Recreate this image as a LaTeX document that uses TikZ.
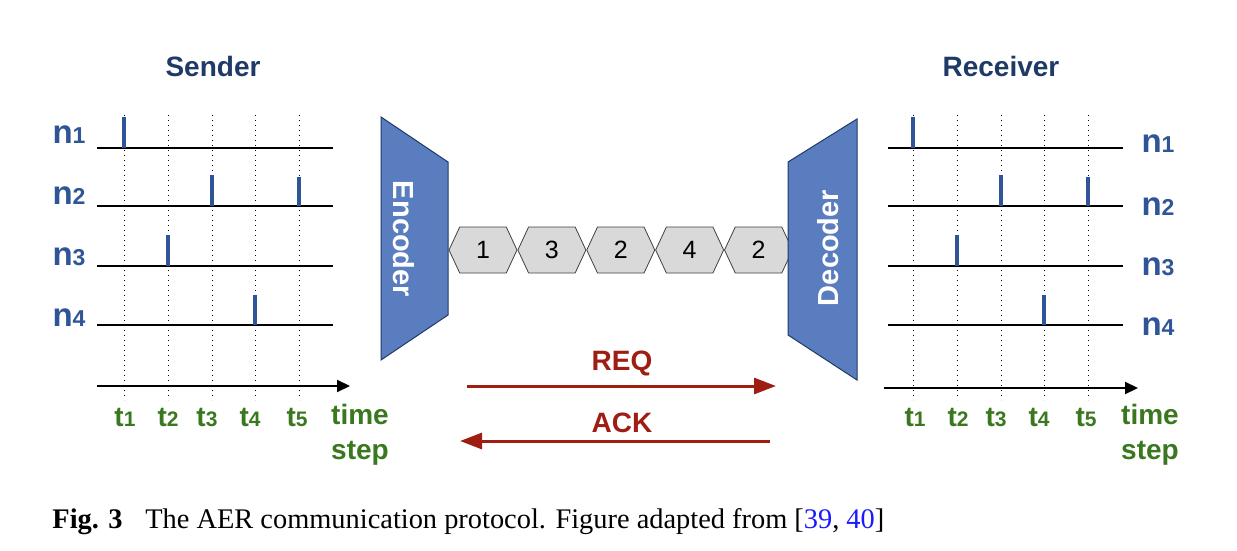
\documentclass[tikz,border=0pt]{standalone}
\usepackage{fontspec}
\setmainfont{Liberation Serif}
\setsansfont{Liberation Sans}
\usepackage{xcolor}
\usetikzlibrary{positioning,shapes.symbols,arrows.meta}

\definecolor{encblue}{HTML}{5A7DC0}
\definecolor{spikeblue}{HTML}{2F5597}
\definecolor{titlenavy}{HTML}{1F3A66}
\definecolor{tgreen}{HTML}{3A7820}
\definecolor{sigred}{HTML}{9E1E14}
\definecolor{hexgray}{HTML}{D9D9D9}
\definecolor{citeblue}{HTML}{1A1AFF}

\newcommand{\nlab}[1]{n{\fontsize{11.5}{12}\selectfont #1}}
\newcommand{\tlab}[1]{t{\fontsize{10.5}{12}\selectfont #1}}

\begin{document}
\begin{tikzpicture}[
        x=0.5pt, y=-0.5pt,
        title/.style={font=\sffamily\bfseries\fontsize{14}{16}\selectfont, text=titlenavy},
        neuron/.style={anchor=base, inner sep=0pt, font=\sffamily\bfseries\fontsize{16.5}{18}\selectfont, text=spikeblue},
        tick/.style={inner sep=0pt, font=\sffamily\bfseries\fontsize{14}{17.5}\selectfont, text=tgreen},
        timeline/.style={line width=1.2pt},
        guide/.style={dotted, line width=0.5pt},
        spike/.style={spikeblue, line width=1.7pt},
        axis/.style={-{Triangle[length=6.5pt, width=6pt]}, line width=1.1pt},
        coder/.style={fill=encblue, draw=titlenavy, line width=0.5pt},
        coderlabel/.style={text=white, font=\sffamily\bfseries\fontsize{14.5}{16}\selectfont},
        packet/.style={signal, signal to=west and east, signal pointer angle=130, draw=black!75, fill=hexgray, line width=0.4pt, minimum width=34pt, minimum height=23pt, inner sep=0pt, font=\sffamily\fontsize{12.5}{13}\selectfont},
        handshake/.style={sigred, line width=1.5pt, -{Triangle[length=11pt, width=8pt]}},
        hslabel/.style={text=sigred, font=\sffamily\bfseries\fontsize{14}{16}\selectfont}
    ]
    \useasboundingbox (0,0) rectangle (1237,551);

    % Sender side
    \node[title] (sender) at (213,66) {Sender};
    \draw[guide] (124,115) -- (124,400) (168,115) -- (168,400) (212,115) -- (212,400)
                 (255,115) -- (255,400) (299,115) -- (299,400);
    \draw[timeline] (97,148) -- (333,148) (97,206) -- (333,206)
                    (97,266) -- (333,266) (97,325) -- (333,325);
    \draw[spike] (124,148) -- (124,117);
    \draw[spike] (212,206) -- (212,175) (299,206) -- (299,177);
    \draw[spike] (168,266) -- (168,235);
    \draw[spike] (255,325) -- (255,295);
    \node[neuron] (sn1) at (69,143) {\nlab{1}};
    \node[neuron] (sn2) at (69,205) {\nlab{2}};
    \node[neuron] (sn3) at (69,265) {\nlab{3}};
    \node[neuron] (sn4) at (69,326) {\nlab{4}};
    \coordinate (saxis0) at (97,386);
    \coordinate (saxis1) at (350,386);
    \draw[axis] (saxis0) -- (saxis1);
    \node[tick] (st1) at (125,417) {\tlab{1}};
    \node[tick] (st2) at (168,417) {\tlab{2}};
    \node[tick] (st3) at (207,417) {\tlab{3}};
    \node[tick] (st4) at (250,417) {\tlab{4}};
    \node[tick] (st5) at (297,417) {\tlab{5}};
    \node[tick, align=center] (stime) at (360,435) {time\\step};

    % Encoder, packets, decoder
    \draw[coder] (381,117) -- (448,162) -- (448,315) -- (381,360) -- cycle;
    \node[coderlabel, rotate=-90] (enc) at (404,239) {Encoder};
    \node[packet] (p1) at (483,250) {1};
    \node[packet, right=0pt of p1] (p2) {3};
    \node[packet, right=0pt of p2] (p3) {2};
    \node[packet, right=0pt of p3] (p4) {4};
    \node[packet, right=0pt of p4] (p5) {2};
    \draw[coder] (788,162) -- (857,119) -- (857,380) -- (788,335) -- cycle;
    \node[coderlabel, rotate=90] (dec) at (828,248) {Decoder};

    % Handshake
    \node[hslabel] (req) at (622,363) {REQ};
    \node[hslabel] (ack) at (622,423) {ACK};
    \coordinate (req0) at (467,386);
    \coordinate (req1) at (776,386);
    \coordinate (ack0) at (770,441);
    \coordinate (ack1) at (460,441);
    \draw[handshake] (req0) -- (req1);
    \draw[handshake] (ack0) -- (ack1);

    % Receiver side
    \node[title] (receiver) at (1001,66) {Receiver};
    \draw[guide] (913,115) -- (913,400) (957,115) -- (957,400) (1001,115) -- (1001,400)
                 (1044,115) -- (1044,400) (1088,115) -- (1088,400);
    \draw[timeline] (888,148) -- (1123,148) (888,206) -- (1123,206)
                    (888,266) -- (1123,266) (888,325) -- (1123,325);
    \draw[spike] (913,148) -- (913,117);
    \draw[spike] (1001,206) -- (1001,175) (1088,206) -- (1088,177);
    \draw[spike] (957,266) -- (957,235);
    \draw[spike] (1044,325) -- (1044,295);
    \node[neuron] (rn1) at (1158,153) {\nlab{1}};
    \node[neuron] (rn2) at (1158,215) {\nlab{2}};
    \node[neuron] (rn3) at (1158,275) {\nlab{3}};
    \node[neuron] (rn4) at (1158,335) {\nlab{4}};
    \coordinate (raxis0) at (884,388);
    \coordinate (raxis1) at (1138,388);
    \draw[axis] (raxis0) -- (raxis1);
    \node[tick] (rt1) at (915,417) {\tlab{1}};
    \node[tick] (rt2) at (958,417) {\tlab{2}};
    \node[tick] (rt3) at (996,417) {\tlab{3}};
    \node[tick] (rt4) at (1039,417) {\tlab{4}};
    \node[tick] (rt5) at (1086,417) {\tlab{5}};
    \node[tick, align=center] (rtime) at (1150,435) {time\\step};

    % Caption
    \node[anchor=base west, inner sep=0pt, font=\fontsize{14.2}{16}\selectfont] (caption) at (52,528)
        {\textbf{Fig. 3}\hspace{0.8em}The AER communication protocol. Figure adapted from [{\color{citeblue}39}, {\color{citeblue}40}]};
\end{tikzpicture}
\end{document}
